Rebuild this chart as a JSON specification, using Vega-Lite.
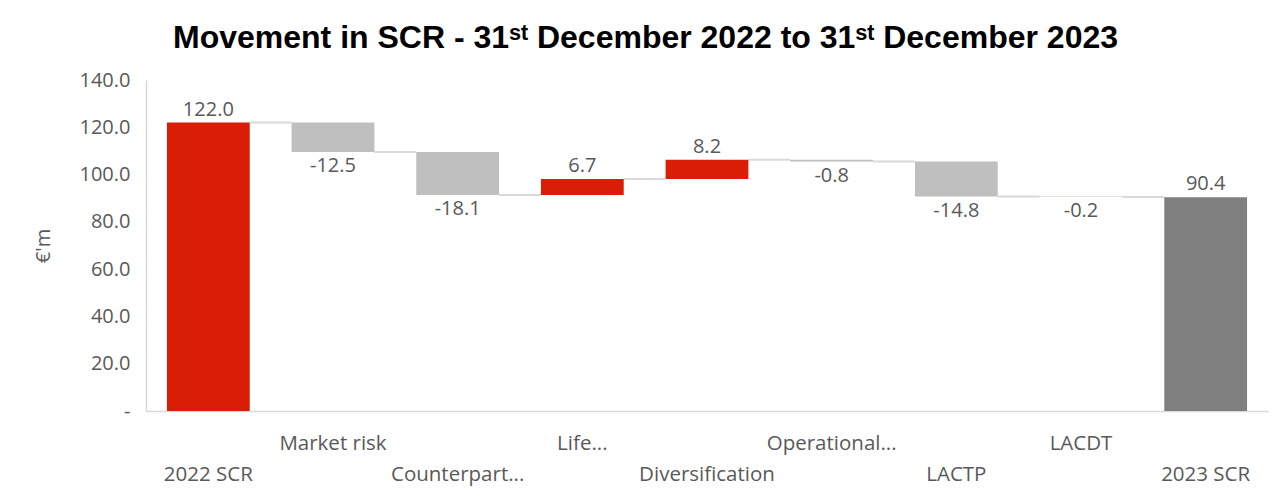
{
  "$schema": "https://vega.github.io/schema/vega-lite/v6.json",
  "width": 1122,
  "height": 331,
  "autosize": {"type": "none"},
  "padding": {"left": 146, "top": 80, "right": 15, "bottom": 86},
  "background": "white",
  "title": {
    "text": "Movement in SCR - 31ˢᵗ December 2022 to 31ˢᵗ December 2023",
    "font": "Liberation Sans",
    "fontSize": 32,
    "fontWeight": "bold",
    "color": "#000000",
    "anchor": "middle",
    "frame": "bounds",
    "offset": 15,
    "dx": -5
  },
  "config": {"view": {"stroke": null}},
  "data": {
    "values": [
      {"cat": "2022 SCR", "next": "Market risk", "start": 0, "end": 122.0, "value": 122.0, "label": "122.0", "kind": "Total 2022"},
      {"cat": "Market risk", "next": "Counterpart...", "start": 122.0, "end": 109.5, "value": -12.5, "label": "-12.5", "kind": "Decrease"},
      {"cat": "Counterpart...", "next": "Life...", "start": 109.5, "end": 91.4, "value": -18.1, "label": "-18.1", "kind": "Decrease"},
      {"cat": "Life...", "next": "Diversification", "start": 91.4, "end": 98.1, "value": 6.7, "label": "6.7", "kind": "Increase"},
      {"cat": "Diversification", "next": "Operational...", "start": 98.1, "end": 106.3, "value": 8.2, "label": "8.2", "kind": "Increase"},
      {"cat": "Operational...", "next": "LACTP", "start": 106.3, "end": 105.5, "value": -0.8, "label": "-0.8", "kind": "Decrease"},
      {"cat": "LACTP", "next": "LACDT", "start": 105.5, "end": 90.7, "value": -14.8, "label": "-14.8", "kind": "Decrease"},
      {"cat": "LACDT", "next": "2023 SCR", "start": 90.7, "end": 90.5, "value": -0.2, "label": "-0.2", "kind": "Decrease"},
      {"cat": "2023 SCR", "next": null, "start": 0, "end": 90.4, "value": 90.4, "label": "90.4", "kind": "Total 2023"}
    ]
  },
  "encoding": {
    "x": {
      "field": "cat",
      "type": "nominal",
      "scale": {
        "domain": ["2022 SCR", "Market risk", "Counterpart...", "Life...", "Diversification", "Operational...", "LACTP", "LACDT", "2023 SCR"],
        "paddingInner": 0.336,
        "paddingOuter": 0.168
      },
      "axis": {
        "title": null,
        "labelAngle": 0,
        "ticks": false,
        "domainColor": "#d9d9d9",
        "domainWidth": 1.5,
        "labelColor": "#595959",
        "labelFont": "Open Sans",
        "labelFontSize": 20.5,
        "labelOverlap": false,
        "labelLimit": 0,
        "labelBaseline": "top",
        "labelPadding": {
          "condition": {"test": "indexof(['2022 SCR','Counterpart...','Diversification','LACTP','2023 SCR'], datum.value) >= 0", "value": 53},
          "value": 22
        }
      }
    }
  },
  "layer": [
    {
      "transform": [{"filter": "datum.next != null"}],
      "mark": {"type": "rule", "color": "#d9d9d9", "strokeWidth": 2},
      "encoding": {
        "x": {"field": "cat", "type": "nominal", "bandPosition": 1},
        "x2": {"field": "next", "bandPosition": 0},
        "y": {"field": "end", "type": "quantitative"}
      }
    },
    {
      "mark": {"type": "bar"},
      "encoding": {
        "y": {
          "field": "start",
          "type": "quantitative",
          "scale": {"domain": [0, 140], "nice": false},
          "axis": {
            "title": "€'m",
            "titleFont": "Open Sans",
            "titleFontSize": 20,
            "titleFontWeight": "normal",
            "titleColor": "#595959",
            "titlePadding": 26,
            "values": [0, 20, 40, 60, 80, 100, 120, 140],
            "labelExpr": "datum.value == 0 ? '-' : format(datum.value, '.1f')",
            "labelFont": "Open Sans",
            "labelFontSize": 20,
            "labelColor": "#595959",
            "labelPadding": 16,
            "ticks": false,
            "grid": false,
            "domainColor": "#d9d9d9",
            "domainWidth": 1.5
          }
        },
        "y2": {"field": "end"},
        "color": {
          "field": "kind",
          "type": "nominal",
          "scale": {
            "domain": ["Total 2022", "Increase", "Decrease", "Total 2023"],
            "range": ["#d91e05", "#d91e05", "#bfbfbf", "#808080"]
          },
          "legend": null
        }
      }
    },
    {
      "transform": [{"filter": "datum.value >= 0"}],
      "mark": {"type": "text", "baseline": "bottom", "dy": -3, "font": "Open Sans", "fontSize": 20, "color": "#595959"},
      "encoding": {
        "y": {"field": "end", "type": "quantitative"},
        "text": {"field": "label", "type": "nominal"}
      }
    },
    {
      "transform": [{"filter": "datum.value < 0"}],
      "mark": {"type": "text", "baseline": "top", "dy": 4, "font": "Open Sans", "fontSize": 20, "color": "#595959"},
      "encoding": {
        "y": {"field": "end", "type": "quantitative"},
        "text": {"field": "label", "type": "nominal"}
      }
    }
  ]
}
